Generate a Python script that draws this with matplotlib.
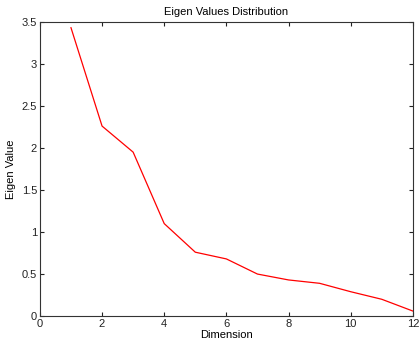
import matplotlib
matplotlib.use("Agg")
import matplotlib.pyplot as plt

dimension = [1, 2, 3, 4, 5, 6, 7, 8, 9, 10, 11, 12]
eigen_values = [3.43, 2.26, 1.95, 1.10, 0.76, 0.68, 0.50, 0.43, 0.39, 0.29, 0.20, 0.06]

plt.rcParams["font.family"] = ["Liberation Sans", "DejaVu Sans"]
plt.rcParams["font.size"] = 8

fig = plt.figure(figsize=(4.2, 3.52), dpi=100)
ax = fig.add_axes([0.095, 0.102, 0.888, 0.836])
ax.plot(dimension, eigen_values, color="red", linewidth=0.9)

ax.set_xlim(0, 12)
ax.set_ylim(0, 3.5)
ax.set_xticks(range(0, 13, 2))
ax.set_yticks([0, 0.5, 1, 1.5, 2, 2.5, 3, 3.5])
ax.set_yticklabels(["0", "0.5", "1", "1.5", "2", "2.5", "3", "3.5"])
ax.tick_params(direction="in", top=True, right=True, length=3, width=0.8,
               colors="#222222", labelsize=8, pad=2)
for s in ax.spines.values():
    s.set_color("#333333")
    s.set_linewidth(0.8)

ax.set_xlabel("Dimension", fontsize=8, labelpad=1)
ax.set_ylabel("Eigen Value", fontsize=8, labelpad=4)
ax.set_title("Eigen Values Distribution", fontsize=8, pad=5)

fig.savefig("out.png", dpi=100)
